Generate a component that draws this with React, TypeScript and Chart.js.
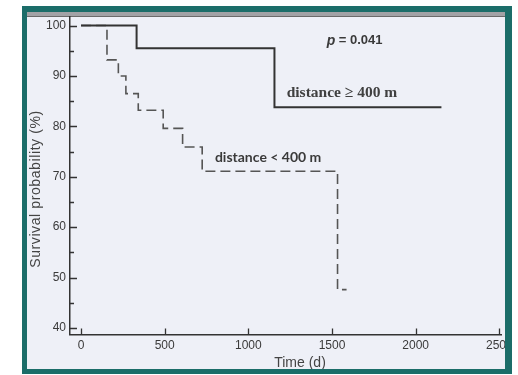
import React, { useEffect, useRef } from "react";
import { Chart, registerables } from "chart.js";

Chart.register(...registerables);

const xTickValues = [0, 500, 1000, 1500, 2000, 2500];
const yTickValues = [40, 50, 60, 70, 80, 90, 100];
const yMinorTickValues = [45, 55, 65, 75, 85, 95];

const timeFar = [0, 332, 1156, 2154];
const survivalFar = [100, 95.5, 83.8, 83.8];

const timeNear = [0, 155, 223, 268, 342, 491, 607, 724, 1533, 1587];
const survivalNear = [100, 93.2, 90, 86.5, 83.2, 79.6, 75.9, 71.1, 47.6, 47.6];

const labelFar = "distance \u2265 400 m";
const labelNear = "distance < 400 m";
const pLabelItalic = "p";
const pLabelRest = " = 0.041";
const xTitle = "Time (d)";
const yTitle = "Survival probability (%)";

const TEAL = "#1b6d69";
const BG = "#eef0f7";
const INK = "#3a3a3a";

const decorPlugin = {
  id: "decor",
  beforeDraw(chart: any) {
    const ctx = chart.ctx;
    ctx.save();
    ctx.fillStyle = "#ffffff";
    ctx.fillRect(0, 0, chart.width, chart.height);
    ctx.fillStyle = TEAL;
    ctx.fillRect(22, 6, 490, 368);
    ctx.fillStyle = BG;
    ctx.fillRect(27, 12, 478, 357);
    ctx.fillStyle = "#a2a2a6";
    ctx.fillRect(27, 12, 478, 4);
    ctx.fillStyle = "#6a6a6a";
    ctx.fillRect(27, 16, 478, 1);
    ctx.restore();
  },
  afterDatasetsDraw(chart: any) {
    const ctx = chart.ctx;
    const xs = chart.scales.x;
    const ys = chart.scales.y;
    const area = chart.chartArea;
    ctx.save();
    ctx.strokeStyle = "#333";
    ctx.lineWidth = 1.3;
    ctx.beginPath();
    yTickValues.forEach((v) => {
      const py = Math.round(ys.getPixelForValue(v)) + 0.5;
      ctx.moveTo(area.left, py);
      ctx.lineTo(area.left + 7, py);
    });
    yMinorTickValues.forEach((v) => {
      const py = Math.round(ys.getPixelForValue(v)) + 0.5;
      ctx.moveTo(area.left, py);
      ctx.lineTo(area.left + 4, py);
    });
    xTickValues.forEach((v) => {
      const px = Math.round(xs.getPixelForValue(v)) + 0.5;
      ctx.moveTo(px, area.bottom);
      ctx.lineTo(px, area.bottom - 6);
    });
    ctx.stroke();

    ctx.fillStyle = INK;
    ctx.textBaseline = "middle";
    // p value
    ctx.textAlign = "left";
    ctx.font = "italic bold 14px 'Liberation Sans', Arial, sans-serif";
    const pxP = xs.getPixelForValue(1635);
    const pyP = ys.getPixelForValue(97);
    const wP = ctx.measureText(pLabelItalic).width;
    ctx.font = "bold 13px 'Liberation Sans', Arial, sans-serif";
    const wR = ctx.measureText(pLabelRest).width;
    const startP = pxP - (wP + wR) / 2;
    ctx.font = "italic bold 14px 'Liberation Sans', Arial, sans-serif";
    ctx.fillText(pLabelItalic, startP, pyP);
    ctx.font = "bold 13px 'Liberation Sans', Arial, sans-serif";
    ctx.fillText(pLabelRest, startP + wP, pyP);

    // far label (serif)
    ctx.font = "bold 15.5px 'Liberation Serif', 'Times New Roman', serif";
    ctx.fillStyle = "#404040";
    ctx.fillText(labelFar, xs.getPixelForValue(1229), ys.getPixelForValue(86.7));

    // near label (sans)
    ctx.font = "bold 14px Lato, 'Liberation Sans', sans-serif";
    ctx.fillStyle = INK;
    ctx.fillText(labelNear, xs.getPixelForValue(800), ys.getPixelForValue(73.8));

    // axis titles
    ctx.font = "14px 'Liberation Sans', Arial, sans-serif";
    ctx.fillStyle = "#444";
    ctx.textAlign = "center";
    ctx.fillText(xTitle, 300, 363);
    ctx.save();
    ctx.translate(36.5, 189);
    ctx.rotate(-Math.PI / 2);
    (ctx as any).letterSpacing = "0.6px";
    ctx.fillText(yTitle, 0, 0);
    ctx.restore();
    ctx.restore();
  },
  afterDraw(chart: any) {
    const ctx = chart.ctx;
    ctx.save();
    ctx.fillStyle = TEAL;
    ctx.fillRect(22, 6, 490, 6);
    ctx.fillRect(22, 369, 490, 5);
    ctx.fillRect(22, 6, 5, 368);
    ctx.fillRect(505, 6, 7, 368);
    ctx.fillStyle = "#ffffff";
    ctx.fillRect(512, 0, 6, 375);
    ctx.restore();
  },
};

export default function App() {
  const ref = useRef<HTMLCanvasElement | null>(null);

  useEffect(() => {
    if (!ref.current) return;
    const chart = new Chart(ref.current, {
      type: "line",
      data: {
        datasets: [
          {
            label: labelFar,
            data: timeFar.map((t, i) => ({ x: t, y: survivalFar[i] })),
            stepped: true,
            borderColor: "#333333",
            borderWidth: 2,
            pointRadius: 0,
            fill: false,
          },
          {
            label: labelNear,
            data: timeNear.map((t, i) => ({ x: t, y: survivalNear[i] })),
            stepped: true,
            borderColor: "#555555",
            borderWidth: 1.6,
            borderDash: [10, 5],
            pointRadius: 0,
            fill: false,
          },
        ],
      },
      options: {
        responsive: false,
        animation: false,
        devicePixelRatio: 1,
        layout: { padding: { top: 17, right: 17, left: 0, bottom: 0 } },
        plugins: {
          legend: { display: false },
          tooltip: { enabled: false },
        },
        scales: {
          x: {
            type: "linear",
            min: -66,
            max: 2510,
            grid: { display: false, drawTicks: false },
            border: { display: true, color: "#333", width: 1.5 },
            ticks: {
              padding: 4,
              color: INK,
              font: { family: "'Liberation Sans', Arial, sans-serif", size: 12 },
              maxRotation: 0,
              autoSkip: false,
              callback: (v: any) => String(v),
            },
            afterBuildTicks: (scale: any) => {
              scale.ticks = xTickValues.map((v) => ({ value: v }));
            },
            afterFit: (scale: any) => {
              scale.height = 40.5;
            },
          },
          y: {
            type: "linear",
            min: 38.7,
            max: 101.7,
            grid: { display: false, drawTicks: false },
            border: { display: true, color: "#333", width: 1.5 },
            ticks: {
              padding: 4,
              color: INK,
              font: { family: "'Liberation Sans', Arial, sans-serif", size: 12 },
              autoSkip: false,
              callback: (v: any) => String(v),
            },
            afterBuildTicks: (scale: any) => {
              scale.ticks = yTickValues.map((v) => ({ value: v }));
            },
            afterFit: (scale: any) => {
              scale.width = 70;
            },
          },
        },
      },
      plugins: [decorPlugin],
    });
    return () => chart.destroy();
  }, []);

  return (
    <div style={{ position: "fixed", left: 0, top: 0, width: 518, height: 375 }}>
      <canvas ref={ref} width={518} height={375} style={{ display: "block" }} />
    </div>
  );
}
